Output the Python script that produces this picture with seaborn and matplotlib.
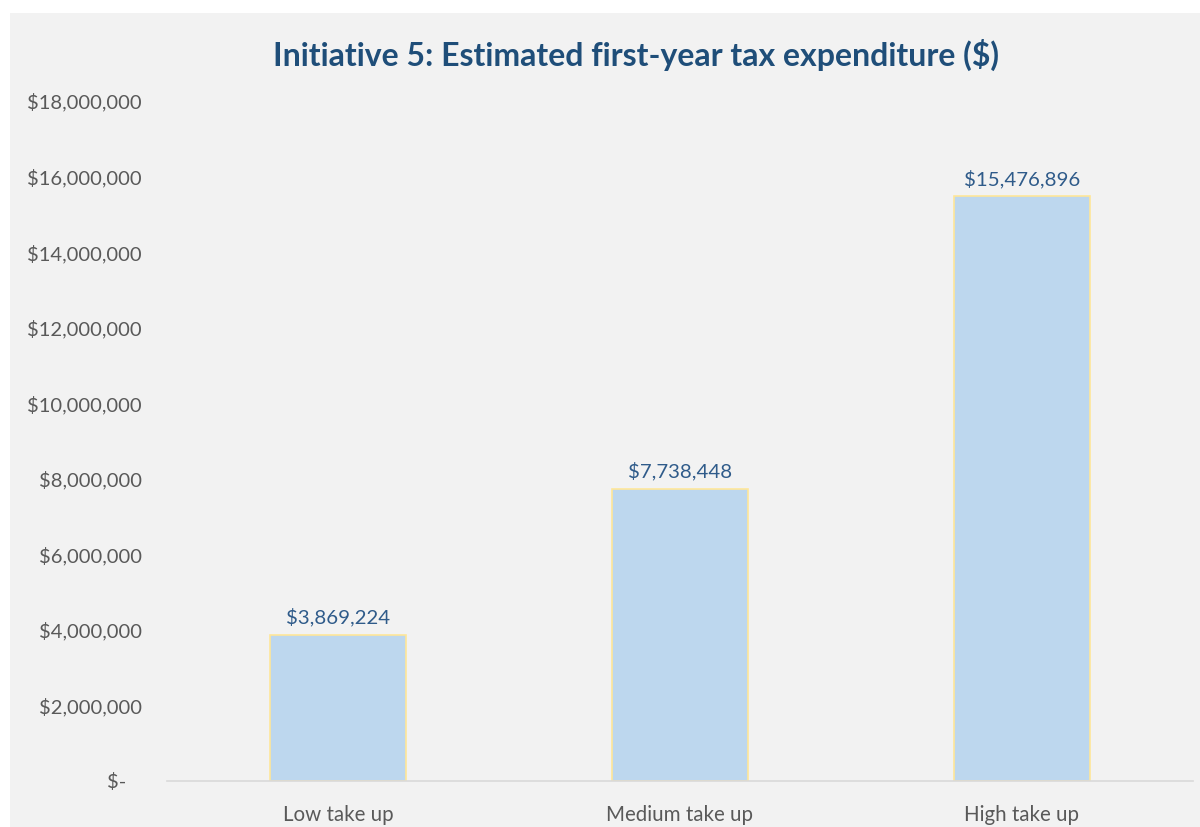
import matplotlib
matplotlib.use("Agg")
import matplotlib.pyplot as plt
import matplotlib.patches as mpatches
from matplotlib.ticker import FuncFormatter, MultipleLocator
import seaborn as sns
import pandas as pd

# Scenario data
scenarios = ["Low take up", "Medium take up", "High take up"]
expenditure = [3869224, 7738448, 15476896]

title = "Initiative 5: Estimated first-year tax expenditure ($)"

sns.set_theme(style="white")
plt.rcParams["font.family"] = ["Lato", "DejaVu Sans"]

df = pd.DataFrame({"scenario": scenarios, "expenditure": expenditure})

fig = plt.figure(figsize=(12, 8.27), dpi=100)
fig.patch.set_facecolor("white")
# grey chart area with a thin white margin on top and left
fig.add_artist(mpatches.Rectangle((10 / 1200, 0), 1 - 10 / 1200, 1 - 13 / 827,
                                  transform=fig.transFigure, facecolor="#f2f2f2",
                                  edgecolor="none", zorder=0))

ax = fig.add_axes([167 / 1200, 1 - 781 / 827, (1193 - 167) / 1200, (781 - 101) / 827])
ax.set_facecolor("none")

sns.barplot(data=df, x="scenario", y="expenditure", ax=ax, color="#bdd7ee",
            width=0.4, edgecolor="#ffe699", linewidth=1.2, saturation=1)

ax.set_ylim(0, 18_000_000)
ax.yaxis.set_major_locator(MultipleLocator(2_000_000))


def money(v, _):
    if v == 0:
        return "$-   "
    return f"${v:,.0f}"


ax.yaxis.set_major_formatter(FuncFormatter(money))
ax.tick_params(axis="y", length=0, pad=18, labelsize=14.5, labelcolor="#595959")
ax.tick_params(axis="x", length=0, pad=17, labelsize=14.8, labelcolor="#595959")
ax.set_xlabel("")
ax.set_ylabel("")

for side in ("top", "right", "left"):
    ax.spines[side].set_visible(False)
ax.spines["bottom"].set_color("#d9d9d9")
ax.spines["bottom"].set_linewidth(1.2)

for container in ax.containers:
    ax.bar_label(container, labels=[f"${v:,.0f}" for v in expenditure],
                 padding=6, fontsize=14.7, color="#2f5b8a")

fig.text(0.53, 1 - 55 / 827, title, ha="center", va="center",
         fontsize=23, fontweight="bold", color="#1f4e79")

fig.savefig("out.png", dpi=100, facecolor=fig.get_facecolor())
